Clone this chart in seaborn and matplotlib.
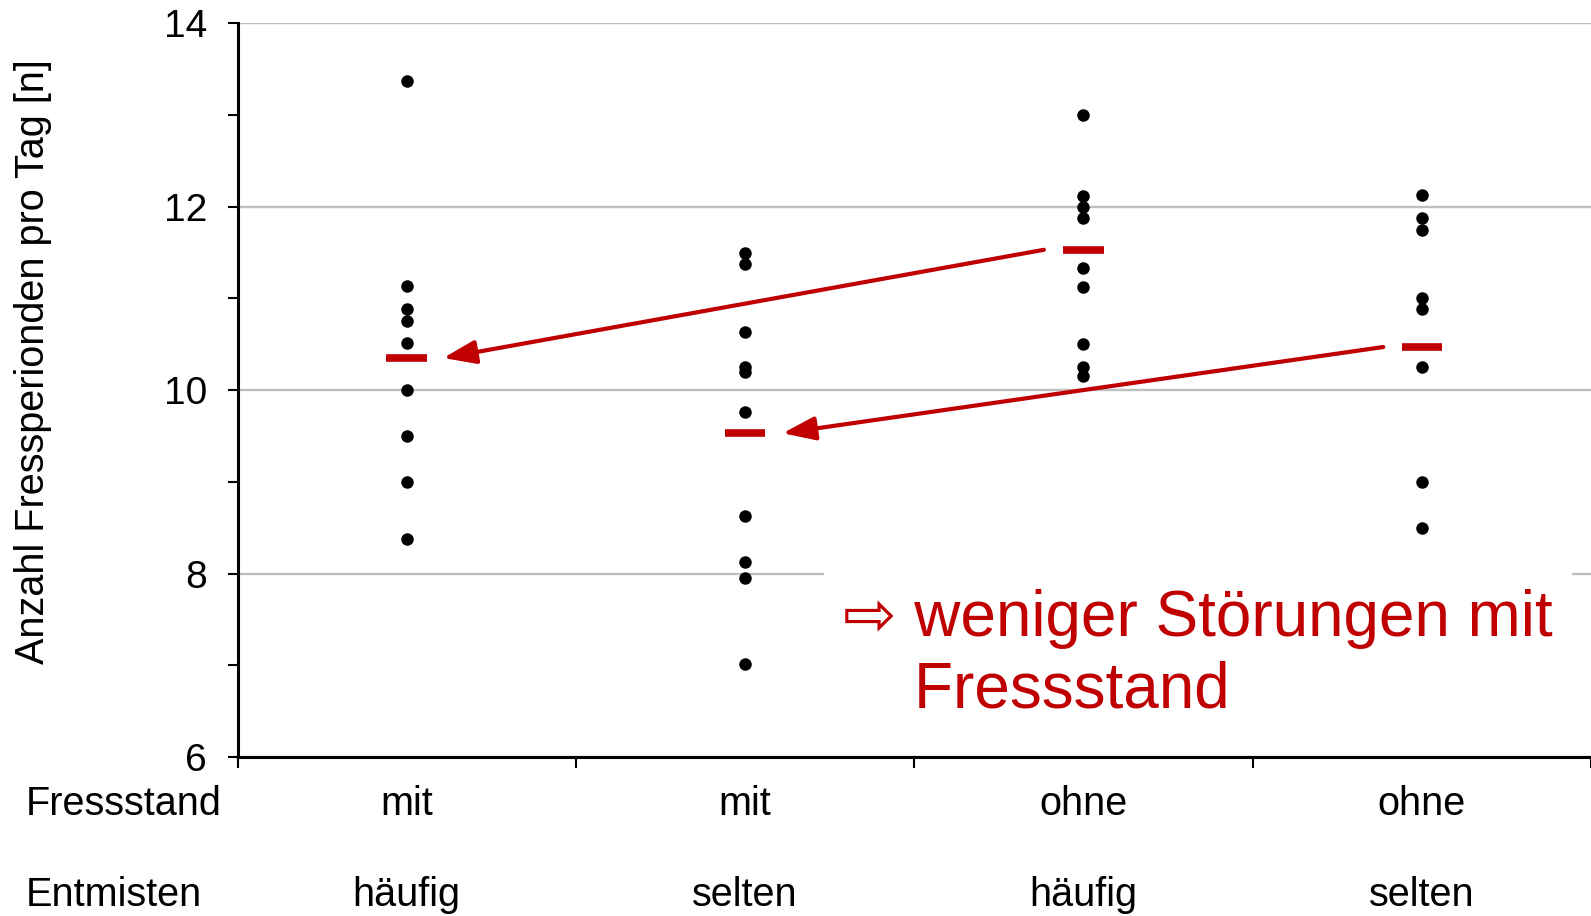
import numpy as np
import pandas as pd
import matplotlib
matplotlib.use('Agg')
import matplotlib.pyplot as plt
import matplotlib.transforms as mtransforms
import seaborn as sns

sns.set_theme(style='white')
plt.rcParams['font.family'] = ['Liberation Sans', 'DejaVu Sans']
plt.rcParams.update({'text.color': 'black', 'axes.labelcolor': 'black',
                     'xtick.color': 'black', 'ytick.color': 'black'})

# data
groups = ['mit / häufig', 'mit / selten', 'ohne / häufig', 'ohne / selten']
fressstand = ['mit', 'mit', 'ohne', 'ohne']
entmisten = ['häufig', 'selten', 'häufig', 'selten']

vals_mit_haeufig = [13.37, 11.13, 10.88, 10.75, 10.51, 10.0, 9.50, 9.0, 8.38]
vals_mit_selten = [11.50, 11.38, 10.63, 10.25, 10.20, 9.76, 8.63, 8.13, 7.95, 7.01]
vals_ohne_haeufig = [13.0, 12.12, 12.0, 11.88, 11.33, 11.12, 10.50, 10.25, 10.15]
vals_ohne_selten = [12.13, 11.88, 11.75, 11.0, 10.88, 10.25, 9.0, 8.50]
means = [10.35, 9.53, 11.53, 10.47]

RED = '#C00000'

df = pd.DataFrame({
    'gruppe': np.repeat(groups, [len(vals_mit_haeufig), len(vals_mit_selten),
                                 len(vals_ohne_haeufig), len(vals_ohne_selten)]),
    'wert': vals_mit_haeufig + vals_mit_selten + vals_ohne_haeufig + vals_ohne_selten,
})

fig = plt.figure(figsize=(15.91, 9.16), dpi=100)
ax = fig.add_axes([0.1493, 0.1736, 0.8507, 0.801])

ax.yaxis.grid(True, color='#BFBFBF', lw=1.7, zorder=0)
ax.set_axisbelow(True)

sns.stripplot(data=df, x='gruppe', y='wert', order=groups, jitter=False,
              color='black', size=9, ax=ax, zorder=3)

# mean bars
xpos = np.arange(len(groups))
ax.hlines(means, xpos - 0.06, xpos + 0.06, color=RED, lw=5.5, zorder=4)

# arrows (ohne -> mit)
arrow_kw = dict(arrowstyle='-|>,head_length=1.1,head_width=0.4', color=RED,
                lw=3, shrinkA=0, shrinkB=0, mutation_scale=18)
ax.annotate('', xy=(0.108, means[0]), xytext=(1.883, means[2]), arrowprops=arrow_kw, zorder=5)
ax.annotate('', xy=(1.111, means[1]), xytext=(2.886, means[3]), arrowprops=arrow_kw, zorder=5)

ax.set_xlim(-0.5, 3.5)
ax.set_ylim(6, 14)
ax.set_yticks([6, 8, 10, 12, 14])
ax.set_yticks([7, 9, 11, 13], minor=True)
ax.set_xticks([-0.5, 0.5, 1.5, 2.5, 3.5])
ax.set_xticklabels([])
ax.set_xlabel('')
ax.set_ylabel('')
fig.text(0.0205, 0.605, 'Anzahl Fressperionden pro Tag [n]', rotation=90,
         ha='center', va='center', fontsize=28.5)

for s in ['top', 'right']:
    ax.spines[s].set_visible(False)
for s in ['left', 'bottom']:
    ax.spines[s].set_color('black')
    ax.spines[s].set_linewidth(2.2)
ax.tick_params(axis='y', which='both', direction='out', length=7, width=1.5,
               left=True, labelsize=28, pad=15)
ax.tick_params(axis='x', which='major', direction='out', length=8, width=1.5,
               bottom=True)

# category labels below the axis
trans = mtransforms.blended_transform_factory(ax.transData, fig.transFigure)
for i in range(len(groups)):
    ax.text(i, 0.1227, fressstand[i], transform=trans, ha='center', va='center', fontsize=28.5)
    ax.text(i, 0.0229, entmisten[i], transform=trans, ha='center', va='center', fontsize=28.5)
fig.text(0.016, 0.1227, 'Fressstand', ha='left', va='center', fontsize=28.5)
fig.text(0.016, 0.0229, 'Entmisten', ha='left', va='center', fontsize=28.5)

ax.text(1.29, 7.83, '⇨ weniger Störungen mit\n    Fressstand', color=RED, fontsize=46,
        ha='left', va='top', linespacing=1.24, zorder=6,
        bbox=dict(facecolor='white', edgecolor='none', pad=14))

fig.savefig('out.png', dpi=100)
